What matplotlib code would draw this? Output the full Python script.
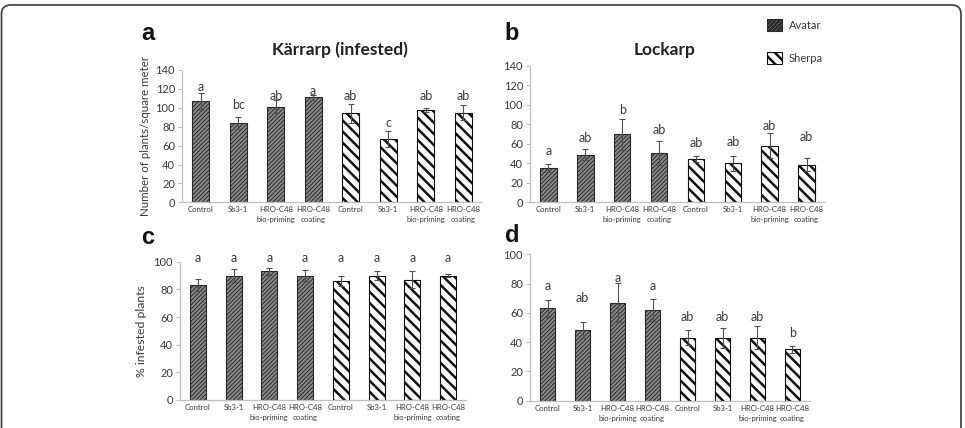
import matplotlib
matplotlib.use("Agg")
import matplotlib.pyplot as plt
from matplotlib.patches import Patch, FancyBboxPatch
import numpy as np

plt.rcParams['font.family'] = ['Lato', 'DejaVu Sans']

categories = ["Control", "Sb3-1", "HRO-C48\nbio-priming", "HRO-C48\ncoating",
              "Control", "Sb3-1", "HRO-C48\nbio-priming", "HRO-C48\ncoating"]
cultivar = ["Avatar"] * 4 + ["Sherpa"] * 4

# panel a: Kärrarp (infested), plants / m2
a_vals = [107, 84, 101, 111, 94, 67, 98, 95]
a_err = [9, 6, 7, 3, 10, 8, 2, 8]
a_letters = ["a", "bc", "ab", "a", "ab", "c", "ab", "ab"]
a_letter_y = [122, 103, 113, 118, 113, 84, 113, 113]

# panel b: Lockarp, plants / m2
b_vals = [35.5, 49, 70, 50.5, 44.5, 40, 58, 38.5]
b_err = [4, 6, 16, 12.5, 3, 8, 13, 6.5]
b_letters = ["a", "ab", "b", "ab", "ab", "ab", "ab", "ab"]
b_letter_y = [53, 66, 95, 74, 60.5, 62, 78, 67]

# panel c: Kärrarp % infested plants
c_vals = [83, 90, 93, 90, 86, 90, 87, 90]
c_err = [4.5, 4.5, 2.5, 4, 3.5, 3, 6, 1]
c_letters = ["a"] * 8
c_letter_y = [103] * 8

# panel d: Lockarp % infested plants
d_vals = [63, 48, 67, 62, 43, 43, 43, 35]
d_err = [5.5, 5.5, 13.5, 7.5, 5, 7, 8, 2.5]
d_letters = ["a", "ab", "a", "a", "ab", "ab", "ab", "b"]
d_letter_y = [78.5, 70, 84, 78.5, 57, 57, 57, 46.5]

W, H = 965, 428
fig = plt.figure(figsize=(W / 100, H / 100), dpi=100)

# frame around the figure
bg = fig.add_axes([0, 0, 1, 1], zorder=-1)
bg.set_xlim(0, W)
bg.set_ylim(H, 0)
bg.axis('off')
bg.add_patch(FancyBboxPatch((1.5, 5), 959.5, 460, boxstyle="round,pad=0,rounding_size=9",
                            facecolor='white', edgecolor='#3a3a3a', linewidth=1.2))

def px_axes(left, right, top, bottom):
    return fig.add_axes([left / W, 1 - bottom / H, (right - left) / W, (bottom - top) / H])

styles = {
    "Avatar": dict(facecolor='#8a8a8a', edgecolor='#2a2a2a', hatch='////////', hlw=0.7),
    "Sherpa": dict(facecolor='white', edgecolor='#111111', hatch='\\\\\\', hlw=1.8),
}

TXT = '#3a3a3a'
SPINE = '#bfbfbf'

def draw_panel(ax, vals, err, letters, letter_y, ymax, ystep):
    x = np.arange(len(categories))
    for cv in ["Avatar", "Sherpa"]:
        idx = [i for i, c in enumerate(cultivar) if c == cv]
        st = styles[cv]
        plt.rcParams['hatch.linewidth'] = st['hlw']
        bars = ax.bar(x[idx], [vals[i] for i in idx], width=0.45,
                      facecolor=st['facecolor'], edgecolor=st['edgecolor'],
                      hatch=st['hatch'], linewidth=0.8, zorder=2)
        for b in bars:
            if hasattr(b, 'set_hatch_linewidth'):
                b.set_hatch_linewidth(st['hlw'])
    ax.errorbar(x, vals, yerr=err, fmt='none', ecolor='#505050', elinewidth=0.8,
                capsize=2.5, capthick=0.8, zorder=3)
    for xi, lab, ly in zip(x, letters, letter_y):
        ax.text(xi, ly, lab, ha='center', va='center', fontsize=9, color=TXT, clip_on=False)
    ax.set_xlim(-0.5, len(categories) - 0.5)
    ax.set_ylim(0, ymax)
    ax.set_yticks(np.arange(0, ymax + 1, ystep))
    ax.set_xticks(x)
    ax.set_xticklabels(categories, fontsize=5.6, color=TXT, linespacing=1.45)
    ax.tick_params(axis='x', length=0, pad=3)
    ax.tick_params(axis='y', length=3, width=0.8, color=SPINE, labelsize=8, labelcolor=TXT, pad=2)
    for s in ['top', 'right']:
        ax.spines[s].set_visible(False)
    for s in ['left', 'bottom']:
        ax.spines[s].set_color(SPINE)
        ax.spines[s].set_linewidth(0.9)
    ax.set_facecolor('none')

ax_a = px_axes(182, 482, 70, 202.3)
draw_panel(ax_a, a_vals, a_err, a_letters, a_letter_y, 140, 20)
ax_a.set_title("Kärrarp (infested)", fontsize=12.5, fontweight='bold', color='#222222',
               pad=11, x=0.527)
ax_a.set_ylabel("Number of plants/square meter", fontsize=8.3, color=TXT, labelpad=3)

ax_b = px_axes(530, 825, 66, 202.3)
draw_panel(ax_b, b_vals, b_err, b_letters, b_letter_y, 140, 20)
ax_b.set_title("Lockarp", fontsize=12.5, fontweight='bold', color='#222222', pad=8, x=0.455)

ax_c = px_axes(180, 466, 261.7, 400)
draw_panel(ax_c, c_vals, c_err, c_letters, c_letter_y, 100, 20)
ax_c.set_ylabel("% infested plants", fontsize=8.8, color=TXT, labelpad=5)

ax_d = px_axes(530, 810, 254.3, 400.7)
draw_panel(ax_d, d_vals, d_err, d_letters, d_letter_y, 100, 20)

# panel letters
for lab, (px, py) in zip("abcd", [(148, 33), (512, 33), (148, 238), (512, 236)]):
    fig.text(px / W, 1 - py / H, lab, fontsize=17, fontweight='bold', color='#111111',
             ha='center', va='center', family=['Liberation Sans', 'DejaVu Sans'])

# legend
handles = []
for cv in ["Avatar", "Sherpa"]:
    st = styles[cv]
    handles.append(Patch(facecolor=st['facecolor'], edgecolor=st['edgecolor'],
                         hatch=st['hatch'], linewidth=0.8, label=cv))
plt.rcParams['hatch.linewidth'] = 1.8
leg = fig.legend(handles=handles, loc='upper left', bbox_to_anchor=(767 / W, 1 - 19 / H),
                 frameon=False, fontsize=8, handlelength=1.35, handleheight=1.3,
                 labelspacing=1.9, handletextpad=0.6, borderpad=0, borderaxespad=0)
for t in leg.get_texts():
    t.set_color(TXT)

fig.savefig("out.png", dpi=100, facecolor='white')
